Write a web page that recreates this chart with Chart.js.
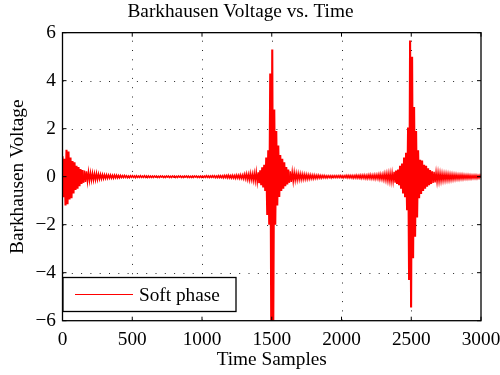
<!DOCTYPE html>
<html>
<head>
<meta charset="utf-8">
<script src="https://cdn.jsdelivr.net/npm/chart.js@4.4.1/dist/chart.umd.min.js"></script>
<style>
  html, body { margin: 0; padding: 0; background: #fff; }
  #wrap { width: 500px; height: 375px; position: relative; }
</style>
</head>
<body>
<div id="wrap"><canvas id="c" width="500" height="375"></canvas></div>
<script>
// ---- Data ----
const chartTitle = 'Barkhausen Voltage vs. Time';
const xAxisLabel = 'Time Samples';
const yAxisLabel = 'Barkhausen Voltage';
const seriesLabel = 'Soft phase';
const sampleStep = 7.16;         // samples between successive stored values
const xTicks = [0, 500, 1000, 1500, 2000, 2500, 3000];
const yTicks = [-6, -4, -2, 0, 2, 4, 6];

// Voltage, consecutive values every sampleStep samples, starting at sample 0
const burstStart = [
  0.85, -0.86, 0.75, -1.2, 1.12, -1.15, 1.05, -0.95, 0.8, -0.9,
  0.65, -0.7, 0.6, -0.55, 0.45, -0.5, 0.4, -0.4, 0.32, -0.3,
  0.28, -0.25, 0.25, -0.22, 0.22, -0.2, 0.2, -0.17, 0.16, -0.15,
  0.15, -0.14, 0.13, -0.13, 0.14, -0.12, 0.11, -0.1, 0.1, -0.09,
  0.09, -0.08, 0.08, -0.07, 0.08, -0.07, 0.07, -0.06, 0.07, -0.06,
  0.06, -0.06, 0.07, -0.05, 0.06, -0.05, 0.05, -0.05, 0.05, -0.04
];
const quietLow = [
  0.04, -0.04, 0.05, -0.03, 0.04, -0.04, 0.03, -0.04, 0.04, -0.03,
  0.04, -0.03, 0.03, -0.04, 0.04, -0.03, 0.03, -0.03, 0.04, -0.03,
  0.03, -0.03, 0.04, -0.03, 0.03, -0.04, 0.03, -0.03, 0.03, -0.03,
  0.03, -0.03, 0.03, -0.02, 0.03, -0.03, 0.02, -0.03, 0.03, -0.02,
  0.03, -0.03, 0.02, -0.03, 0.03, -0.02, 0.03, -0.03, 0.02, -0.03,
  0.03, -0.02, 0.03, -0.03, 0.02, -0.03, 0.03, -0.02, 0.03, -0.03,
  0.02, -0.03, 0.03, -0.02, 0.03, -0.03, 0.03, -0.03, 0.02, -0.03,
  0.03, -0.03, 0.03, -0.02, 0.03, -0.03, 0.02, -0.03, 0.03, -0.03,
  0.03, -0.03, 0.03, -0.03, 0.04, -0.03, 0.03, -0.04, 0.03, -0.03,
  0.04, -0.03, 0.04, -0.04, 0.03, -0.04, 0.04, -0.04, 0.04, -0.04,
  0.04, -0.05, 0.05, -0.04, 0.05, -0.05, 0.06, -0.05, 0.05, -0.06,
  0.06, -0.06, 0.05, -0.07, 0.07, -0.06, 0.06, -0.07, 0.08, -0.07
];
const burst1500 = [
  0.07, -0.08, 0.1, -0.09, 0.12, -0.12, 0.1, -0.14, 0.14, -0.13,
  0.12, -0.16, 0.15, -0.18, 0.2, -0.22, 0.18, -0.27, 0.26, -0.35,
  0.39, -0.45, 0.5, -0.6, 0.8, -1.6, 1.1, -2.0, 4.3, -6.3,
  5.3, -6.3, 2.8, -2.0, 1.9, -1.2, 1.3, -0.85, 0.9, -0.6,
  0.75, -0.5, 0.6, -0.4, 0.4, -0.32, 0.3, -0.25, 0.22, -0.22,
  0.2, -0.2, 0.18, -0.15, 0.14, -0.14, 0.13, -0.12, 0.12, -0.12,
  0.11, -0.11, 0.1, -0.1, 0.09, -0.1, 0.08, -0.09, 0.08, -0.08,
  0.07, -0.08, 0.07, -0.07, 0.06, -0.07, 0.06, -0.06, 0.05, -0.06
];
const quietMid = [
  0.05, -0.05, 0.05, -0.05, 0.04, -0.05, 0.04, -0.04, 0.04, -0.05,
  0.04, -0.04, 0.04, -0.04, 0.04, -0.04, 0.04, -0.04, 0.05, -0.04,
  0.04, -0.05, 0.04, -0.04, 0.05, -0.05, 0.05, -0.05, 0.05, -0.05,
  0.05, -0.06, 0.05, -0.05, 0.06, -0.06, 0.05, -0.06, 0.06, -0.07,
  0.06, -0.06, 0.07, -0.07, 0.06, -0.08, 0.07, -0.07, 0.08, -0.08,
  0.07, -0.08, 0.08, -0.09, 0.08, -0.08, 0.09, -0.1, 0.1, -0.1
];
const burst2500 = [
  0.09, -0.12, 0.12, -0.14, 0.13, -0.16, 0.14, -0.18, 0.15, -0.2,
  0.16, -0.2, 0.2, -0.25, 0.25, -0.3, 0.3, -0.35, 0.45, -0.5,
  0.55, -0.7, 0.8, -0.86, 1.0, -1.4, 2.05, -4.3, 5.67, -5.45,
  5.0, -3.4, 2.9, -2.5, 1.9, -1.7, 1.1, -0.9, 0.7, -0.72,
  0.67, -0.6, 0.5, -0.5, 0.45, -0.42, 0.35, -0.35, 0.28, -0.3,
  0.22, -0.26, 0.2, -0.24, 0.18, -0.22, 0.17, -0.2, 0.15, -0.18,
  0.13, -0.16, 0.12, -0.15, 0.12, -0.14, 0.11, -0.14, 0.1, -0.13,
  0.1, -0.12, 0.09, -0.11, 0.09, -0.1, 0.08, -0.1, 0.08, -0.09,
  0.08, -0.09, 0.07, -0.08, 0.07, -0.08, 0.07, -0.08, 0.06, -0.08,
  0.06, -0.07, 0.06, -0.07, 0.06, -0.07, 0.05, -0.06, 0.06, -0.06,
  0.05, -0.06, 0.05, -0.06, 0.05, -0.05, 0.05, -0.05, 0.05
];

// ---- Build the dataset from the arrays ----
const voltage = [].concat(burstStart, quietLow, burst1500, quietMid, burst2500);
const points = voltage.map((v, i) => ({ x: i * sampleStep, y: v }));

const FONT = "'Liberation Serif', 'Times New Roman', Times, serif";
const FS = 19.3;
const minusFmt = v => (v < 0 ? '\u2212' + Math.abs(v) : String(v));

const boxPlugin = {
  id: 'matlabBox',
  beforeDatasetsDraw(chart) {
    const { ctx, chartArea: a, scales: { x, y } } = chart;
    ctx.save();
    ctx.strokeStyle = 'rgba(0,0,0,0.85)';
    ctx.lineWidth = 1;
    ctx.setLineDash([1, 8.3]);
    xTicks.forEach(t => {
      if (t === x.min || t === x.max) return;
      const px = Math.round(x.getPixelForValue(t)) + 0.5;
      ctx.beginPath(); ctx.moveTo(px, a.bottom); ctx.lineTo(px, a.top); ctx.stroke();
    });
    yTicks.forEach(t => {
      if (t === y.min || t === y.max) return;
      const py = Math.round(y.getPixelForValue(t)) + 0.5;
      ctx.beginPath(); ctx.moveTo(a.left, py); ctx.lineTo(a.right, py); ctx.stroke();
    });
    ctx.restore();
  },
  afterDatasetsDraw(chart) {
    const { ctx, chartArea: a, scales: { x, y } } = chart;
    ctx.save();
    ctx.strokeStyle = '#000';
    ctx.lineWidth = 1.3;
    ctx.setLineDash([]);
    ctx.strokeRect(a.left, a.top, a.right - a.left, a.bottom - a.top);
    const tl = 4;
    ctx.lineWidth = 1;
    xTicks.forEach(t => {
      const px = x.getPixelForValue(t);
      ctx.beginPath();
      ctx.moveTo(px, a.bottom); ctx.lineTo(px, a.bottom - tl);
      ctx.moveTo(px, a.top); ctx.lineTo(px, a.top + tl);
      ctx.stroke();
    });
    yTicks.forEach(t => {
      const py = y.getPixelForValue(t);
      ctx.beginPath();
      ctx.moveTo(a.left, py); ctx.lineTo(a.left + tl, py);
      ctx.moveTo(a.right, py); ctx.lineTo(a.right - tl, py);
      ctx.stroke();
    });
    // legend box (bottom-left inside axes)
    const lx = a.left + 0.5, ly = 277.5, lw = 173, lh = 34;
    ctx.fillStyle = '#fff';
    ctx.fillRect(lx, ly, lw, lh);
    ctx.lineWidth = 1.3;
    ctx.strokeStyle = '#000';
    ctx.strokeRect(lx, ly, lw, lh);
    ctx.strokeStyle = '#ff0000';
    ctx.lineWidth = 1;
    ctx.beginPath(); ctx.moveTo(lx + 12, ly + 17); ctx.lineTo(lx + 70, ly + 17); ctx.stroke();
    ctx.fillStyle = '#000';
    ctx.font = FS + 'px ' + FONT;
    ctx.textBaseline = 'alphabetic';
    ctx.textAlign = 'left';
    ctx.fillText(chart.data.datasets[0].label, lx + 76, ly + 23);
    ctx.restore();
  }
};

Chart.defaults.font.family = FONT;
Chart.defaults.font.size = FS;
Chart.defaults.color = '#000';

new Chart(document.getElementById('c'), {
  type: 'line',
  data: {
    datasets: [{
      label: seriesLabel,
      data: points,
      borderColor: '#ff0000',
      borderWidth: 1.5,
      segment: {
        borderWidth: c => (Math.abs(c.p0.parsed.y - c.p1.parsed.y) > 0.5 ? 2.1 : 1.5)
      },
      pointRadius: 0,
      tension: 0,
      fill: false
    }]
  },
  options: {
    responsive: false,
    animation: false,
    devicePixelRatio: 1,
    layout: { padding: { left: 0, right: 19, top: 0, bottom: 0 } },
    plugins: {
      legend: { display: false },
      tooltip: { enabled: false },
      title: {
        display: true,
        text: chartTitle,
        color: '#000',
        font: { size: FS, weight: 'normal', family: FONT },
        padding: { top: 0.8, bottom: 8.7 }
      }
    },
    scales: {
      x: {
        type: 'linear',
        min: 0, max: 3000,
        afterBuildTicks: s => { s.ticks = xTicks.map(v => ({ value: v })); },
        afterFit: s => { s.height = 54.3; s.paddingLeft = 0; s.paddingRight = 0; },
        grid: { display: false, drawTicks: false },
        border: { display: false },
        ticks: { padding: 8, maxRotation: 0, autoSkip: false, font: { size: FS }, callback: v => minusFmt(v) },
        title: { display: true, text: xAxisLabel, font: { size: FS }, padding: { top: 0, bottom: 3 } }
      },
      y: {
        type: 'linear',
        min: -6, max: 6,
        afterBuildTicks: s => { s.ticks = yTicks.map(v => ({ value: v })); },
        afterFit: s => { s.width = 62.5; s.paddingTop = 0; s.paddingBottom = 0; },
        grid: { display: false, drawTicks: false },
        border: { display: false },
        ticks: { padding: 6.5, autoSkip: false, font: { size: FS }, callback: v => minusFmt(v) },
        title: { display: true, text: yAxisLabel, font: { size: FS }, padding: { top: 6, bottom: 0 } }
      }
    }
  },
  plugins: [boxPlugin]
});
</script>
</body>
</html>
